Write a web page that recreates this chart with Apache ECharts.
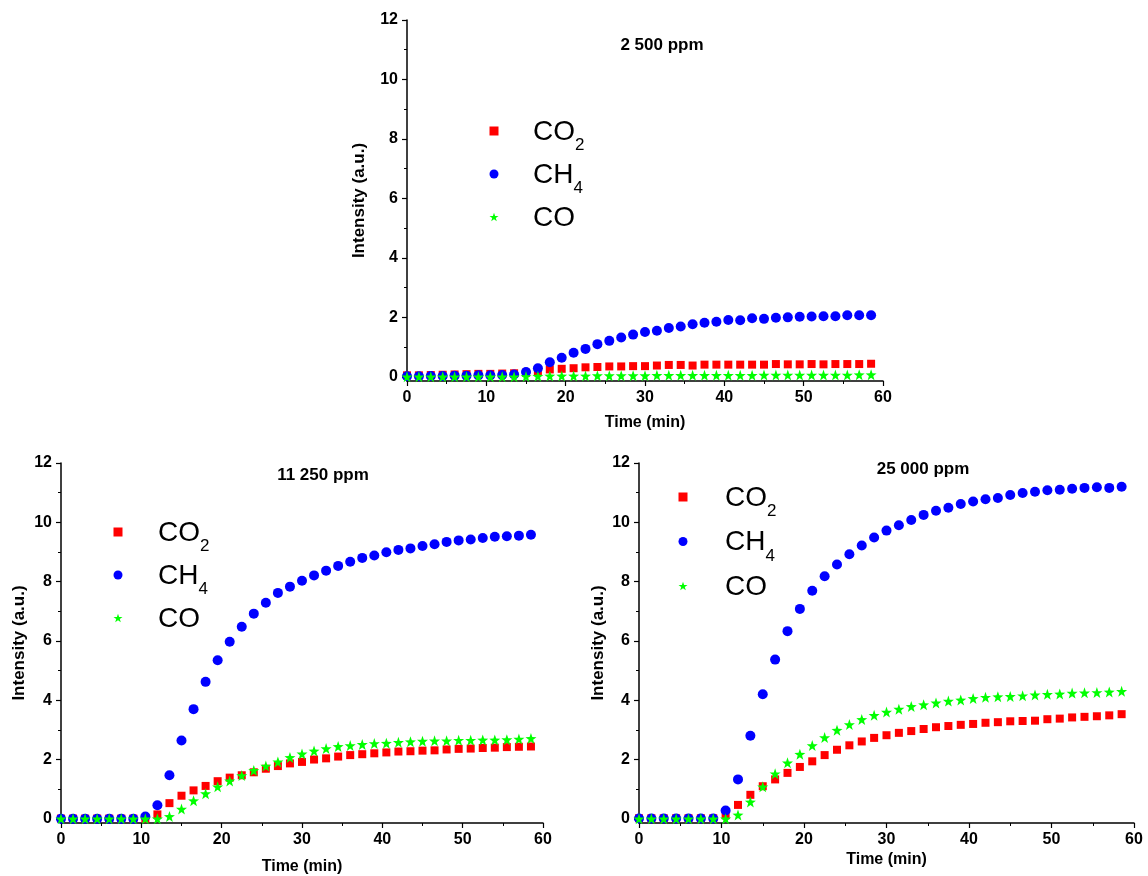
<!DOCTYPE html>
<html>
<head>
<meta charset="utf-8">
<script src="https://cdn.jsdelivr.net/npm/echarts@6/dist/echarts.min.js"></script>
<style>html,body{margin:0;padding:0;background:#fff}#c{width:1148px;height:876px}</style>
</head>
<body>
<div id="c"></div>
<script>
// Time points (min)
const times = [0,1.5,3,4.5,6,7.5,9,10.5,12,13.5,15,16.5,18,19.5,21,22.5,24,25.5,27,28.5,30,31.5,33,34.5,36,37.5,39,40.5,42,43.5,45,46.5,48,49.5,51,52.5,54,55.5,57,58.5];
const xTicks = [0,10,20,30,40,50,60];
const yTicks = [0,2,4,6,8,10,12];
const yMinorTicks = [1,3,5,7,9,11];
const panelTitles = ['2 500 ppm','11 250 ppm','25 000 ppm'];
const seriesNames = ['CO2','CH4','CO'];

// 2 500 ppm
const co2_2500 = [0.05,0.05,0.06,0.07,0.08,0.09,0.10,0.10,0.11,0.12,0.14,0.17,0.25,0.27,0.29,0.32,0.33,0.35,0.35,0.36,0.36,0.38,0.40,0.40,0.38,0.41,0.41,0.41,0.41,0.41,0.41,0.43,0.42,0.42,0.43,0.42,0.43,0.43,0.43,0.44];
const ch4_2500 = [0.02,0.02,0.03,0.03,0.04,0.04,0.05,0.05,0.06,0.08,0.16,0.29,0.49,0.64,0.81,0.94,1.10,1.21,1.32,1.42,1.51,1.55,1.64,1.69,1.77,1.82,1.85,1.91,1.90,1.97,1.95,1.99,2.00,2.02,2.03,2.04,2.04,2.07,2.07,2.07];
const co_2500  = [0,0,0,0,0,0,0,0,0,0,0.01,0.02,0.03,0.03,0.03,0.03,0.04,0.04,0.04,0.04,0.04,0.05,0.05,0.05,0.05,0.05,0.05,0.05,0.05,0.05,0.06,0.06,0.06,0.06,0.06,0.06,0.06,0.06,0.07,0.07];
// 11 250 ppm
const co2_11250 = [0.01,0.01,0.01,0.01,0.01,0.01,0.01,0.01,0.15,0.53,0.78,0.96,1.11,1.27,1.39,1.47,1.57,1.69,1.78,1.87,1.92,2.00,2.04,2.10,2.15,2.18,2.21,2.24,2.27,2.28,2.30,2.31,2.34,2.36,2.37,2.39,2.40,2.42,2.43,2.44];
const ch4_11250 = [0,0,0,0,0,0,0,0.08,0.46,1.47,2.64,3.70,4.62,5.35,5.97,6.48,6.92,7.29,7.62,7.83,8.03,8.21,8.37,8.53,8.67,8.80,8.88,8.99,9.07,9.12,9.20,9.26,9.34,9.39,9.42,9.47,9.51,9.53,9.55,9.58];
const co_11250  = [0,0,0,0,0,0,0,0,0,0.08,0.33,0.61,0.85,1.08,1.28,1.46,1.63,1.78,1.92,2.07,2.19,2.29,2.37,2.44,2.47,2.51,2.54,2.55,2.58,2.60,2.62,2.63,2.63,2.65,2.65,2.66,2.66,2.67,2.69,2.71];
// 25 000 ppm
const co2_25000 = [0.02,0.02,0.02,0.02,0.02,0.02,0.02,0.12,0.47,0.81,1.10,1.33,1.55,1.75,1.94,2.15,2.33,2.48,2.61,2.73,2.82,2.90,2.96,3.03,3.09,3.13,3.17,3.20,3.24,3.26,3.29,3.30,3.31,3.36,3.38,3.42,3.44,3.46,3.49,3.53];
const ch4_25000 = [0.01,0.01,0.01,0.01,0.01,0.01,0.01,0.28,1.33,2.80,4.20,5.37,6.33,7.08,7.69,8.18,8.58,8.92,9.22,9.49,9.72,9.90,10.08,10.25,10.39,10.49,10.62,10.70,10.78,10.82,10.92,10.99,11.03,11.08,11.10,11.13,11.16,11.18,11.16,11.20];
const co_25000  = [0,0,0,0,0,0,0,0,0.13,0.57,1.08,1.52,1.89,2.18,2.47,2.74,2.99,3.18,3.35,3.49,3.60,3.70,3.79,3.85,3.91,3.97,4.01,4.06,4.10,4.12,4.13,4.15,4.18,4.20,4.21,4.24,4.25,4.26,4.28,4.30];

const panels = [
  {co2: co2_2500, ch4: ch4_2500, co: co_2500},
  {co2: co2_11250, ch4: ch4_11250, co: co_11250},
  {co2: co2_25000, ch4: ch4_25000, co: co_25000}
];

const STAR = 'path://M0,-10L2.35,-3.24L9.51,-3.09L3.8,1.24L5.88,8.09L0,4L-5.88,8.09L-3.8,1.24L-9.51,-3.09L-2.35,-3.24Z';
const styles = [
  {name: seriesNames[0], symbol: 'rect', size: 8, color: '#ff0000', key: 'co2'},
  {name: seriesNames[1], symbol: 'circle', size: 10, color: '#0000ff', key: 'ch4'},
  {name: seriesNames[2], symbol: STAR, size: 11, color: '#00ff00', key: 'co'}
];

// Y range starts slightly below zero, as in the original (x axis sits just under y = 0)
const Y_MIN = -0.14, Y_MAX = 12;

const grids = [
  {left: 407, right: 265, top: 20, bottom: 495},
  {left: 61, right: 605, top: 463, bottom: 53},
  {left: 639, right: 14, top: 463, bottom: 53}
];
const xNameGaps = [34, 36, 29];
const yNameGaps = [39, 33, 32];
const titlePos = [{x: 657, y: 32}, {x: 318, y: 462}, {x: 918, y: 456}];
const legendPos = [
  {x: 489.5, y: 118, gap: 7, pad: 29.5},
  {x: 113.5, y: 519, gap: 7, pad: 30.5},
  {x: 678.5, y: 484, gap: 8.5, pad: 32.5}
];

const font = 'Liberation Sans, Arial, sans-serif';
const axisLine = {show: true, onZero: false, lineStyle: {color: '#000', width: 1.5}};
const labelStyle = {fontFamily: font, fontWeight: 'bold', fontSize: 16, color: '#000'};

const xAxes = grids.map((g, i) => ({
  gridIndex: i, type: 'value', min: xTicks[0], max: xTicks[xTicks.length - 1], interval: 10,
  name: 'Time (min)', nameLocation: 'middle', nameGap: xNameGaps[i],
  nameTextStyle: {fontFamily: font, fontWeight: 'bold', fontSize: 16, color: '#000'},
  axisLine: axisLine, axisTick: {show: true, inside: false, length: 5, lineStyle: {color: '#000', width: 1.2}},
  minorTick: {show: true, splitNumber: 2, length: 3, lineStyle: {color: '#000', width: 1}},
  axisLabel: Object.assign({margin: 9}, labelStyle),
  splitLine: {show: false}
}));
const yAxes = grids.map((g, i) => ({
  gridIndex: i, type: 'value', min: Y_MIN, max: Y_MAX,
  name: 'Intensity (a.u.)', nameLocation: 'middle', nameGap: yNameGaps[i], nameRotate: 90,
  nameTextStyle: {fontFamily: font, fontWeight: 'bold', fontSize: 17, color: '#000'},
  axisLine: axisLine,
  axisTick: {show: true, inside: false, length: 5, customValues: yTicks, lineStyle: {color: '#000', width: 1.2}},
  axisLabel: Object.assign({margin: 9, customValues: yTicks}, labelStyle),
  splitLine: {show: false}
}));
// minor y ticks
grids.forEach((g, i) => {
  yAxes.push({
    gridIndex: i, type: 'value', min: Y_MIN, max: Y_MAX, position: 'left',
    axisLine: {show: false},
    axisTick: {show: true, inside: false, length: 3, customValues: yMinorTicks, lineStyle: {color: '#000', width: 1}},
    axisLabel: {show: false}, splitLine: {show: false}
  });
});

const series = [];
panels.forEach((p, i) => {
  styles.forEach(s => {
    series.push({
      type: 'scatter', name: s.name, xAxisIndex: i, yAxisIndex: i,
      symbol: s.symbol, symbolSize: s.size,
      itemStyle: {color: s.color, opacity: 1},
      data: times.map((t, k) => [t, p[s.key][k]]),
      z: 3, silent: true, clip: false
    });
  });
});

const legends = legendPos.map(lp => ({
  orient: 'vertical', left: lp.x, top: lp.y, padding: 0,
  itemWidth: 9, itemHeight: 9, itemGap: lp.gap,
  data: seriesNames, selectedMode: false,
  formatter: n => n === 'CO2' ? '{m|CO}{s|2}' : n === 'CH4' ? '{m|CH}{s|4}' : '{m|CO}{s| }',
  textStyle: {
    padding: [9, 0, 0, lp.pad],
    rich: {
      m: {fontFamily: font, fontSize: 28, color: '#000', lineHeight: 35, verticalAlign: 'top'},
      s: {fontFamily: font, fontSize: 17, color: '#000', lineHeight: 17, verticalAlign: 'top', padding: [19, 0, 0, 0]}
    }
  }
}));

const titles = titlePos.map((tp, i) => ({
  text: panelTitles[i], left: tp.x, top: tp.y, textAlign: 'center',
  textStyle: {fontFamily: font, fontWeight: 'bold', fontSize: 17, color: '#000'}
}));

const chart = echarts.init(document.getElementById('c'));
chart.setOption({
  animation: false,
  backgroundColor: '#fff',
  title: titles,
  legend: legends,
  grid: grids,
  xAxis: xAxes,
  yAxis: yAxes,
  series: series
});
</script>
</body>
</html>
